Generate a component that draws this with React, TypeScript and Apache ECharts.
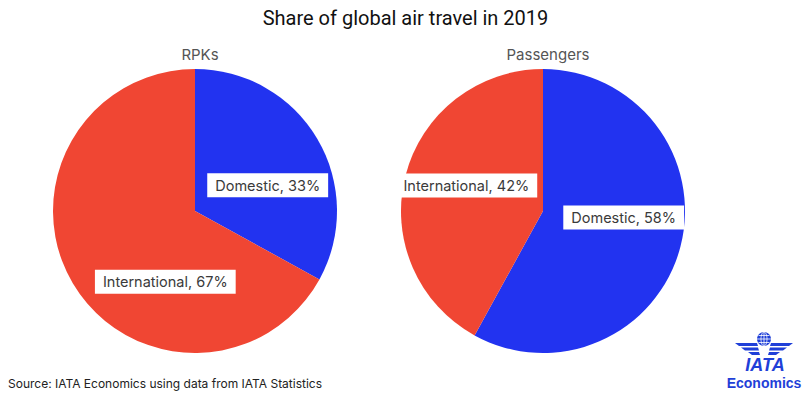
import React, { useEffect, useRef } from "react";
import * as echarts from "echarts";

const title = "Share of global air travel in 2019";
const pieTitles = ["RPKs", "Passengers"];
const categories = ["Domestic", "International"];
const rpkShares = [33, 67];
const passengerShares = [58, 42];
const source = "Source: IATA Economics using data from IATA Statistics";

const BLUE = "#2233f0";
const RED = "#f04633";
const LOGO = "#1f3fd8";

export default function App() {
  const ref = useRef<HTMLDivElement>(null);
  useEffect(() => {
    const chart = echarts.init(ref.current!, null, { renderer: "svg" });
    const labelStyle = {
      show: true,
      position: "inside",
      formatter: "{b}, {c}%",
      color: "#3a3a3a",
      fontSize: 14.5,
      fontFamily: "Inter, Roboto, sans-serif",
      backgroundColor: "#ffffff",
      padding: [5, 8, 4, 8],
    };
    const rpkOffsets = [[9, 12], [34, 33]];
    const paxOffsets = [[9, -12], [-5, -7]];
    const colors = [BLUE, RED];
    const mk = (vals: number[], offs: number[][]) =>
      categories.map((c, i) => ({
        name: c,
        value: vals[i],
        itemStyle: { color: colors[i] },
        label: { offset: offs[i] },
      }));
    const wing = (pts: number[][], mirror: boolean) => ({
      type: "polygon",
      shape: { points: mirror ? pts.map(([x, y]) => [2 * 764 - x, y]) : pts },
      style: { fill: LOGO },
    });
    const stripes = [
      [[735, 343], [757, 343], [758, 346], [739, 346]],
      [[741, 347.5], [758, 347.5], [759, 350.5], [745, 350.5]],
      [[748, 352], [759, 352], [760, 355], [752, 355]],
    ];
    chart.setOption({
      animation: false,
      title: [
        {
          text: title,
          left: "center",
          top: 3,
          textStyle: { fontSize: 20, fontWeight: "normal", color: "#111", fontFamily: "Roboto, sans-serif" },
        },
        {
          text: pieTitles[0],
          left: 195,
          top: 42,
          textAlign: "center",
          textStyle: { fontSize: 15, fontWeight: "normal", color: "#555", fontFamily: "Inter, Roboto, sans-serif" },
        },
        {
          text: pieTitles[1],
          left: 543,
          top: 42,
          textAlign: "center",
          textStyle: { fontSize: 15, fontWeight: "normal", color: "#555", fontFamily: "Inter, Roboto, sans-serif" },
        },
      ],
      series: [
        {
          type: "pie",
          center: [195, 211],
          radius: 142,
          startAngle: 90,
          clockwise: true,
          label: labelStyle,
          labelLine: { show: false },
          emphasis: { disabled: true },
          data: mk(rpkShares, rpkOffsets),
        },
        {
          type: "pie",
          center: [543, 211],
          radius: 142,
          startAngle: 90,
          clockwise: true,
          label: labelStyle,
          labelLine: { show: false },
          emphasis: { disabled: true },
          data: mk(passengerShares, paxOffsets),
        },
      ],
      graphic: [
        {
          type: "text",
          left: 8,
          top: 377,
          style: { text: source, fontSize: 12, fill: "#222", fontFamily: "Inter, Roboto, sans-serif" },
        },
        { type: "circle", shape: { cx: 764, cy: 339, r: 7 }, style: { fill: LOGO } },
        { type: "ellipse", shape: { cx: 764, cy: 339, rx: 3, ry: 7 }, style: { fill: "none", stroke: "#fff", lineWidth: 0.8 } },
        { type: "line", shape: { x1: 764, y1: 332, x2: 764, y2: 346 }, style: { stroke: "#fff", lineWidth: 0.8 } },
        { type: "line", shape: { x1: 757, y1: 339, x2: 771, y2: 339 }, style: { stroke: "#fff", lineWidth: 0.8 } },
        { type: "line", shape: { x1: 758.5, y1: 335.5, x2: 769.5, y2: 335.5 }, style: { stroke: "#fff", lineWidth: 0.8 } },
        { type: "line", shape: { x1: 758.5, y1: 342.5, x2: 769.5, y2: 342.5 }, style: { stroke: "#fff", lineWidth: 0.8 } },
        ...stripes.map((s) => wing(s, false)),
        ...stripes.map((s) => wing(s, true)),
        {
          type: "text",
          x: 765,
          y: 356,
          style: {
            text: "IATA",
            fontSize: 18,
            fontWeight: "bold",
            fontStyle: "italic",
            fill: LOGO,
            align: "center",
            fontFamily: "Liberation Sans, Arial, sans-serif",
          },
        },
        {
          type: "text",
          x: 764,
          y: 376,
          style: {
            text: "Economics",
            fontSize: 14,
            fontWeight: "bold",
            fill: LOGO,
            align: "center",
            fontFamily: "Liberation Sans, Arial, sans-serif",
          },
        },
      ],
    });
    return () => chart.dispose();
  }, []);
  return (
    <div
      ref={ref}
      style={{ position: "fixed", left: 0, top: 0, width: 811, height: 394, background: "#fff" }}
    />
  );
}
